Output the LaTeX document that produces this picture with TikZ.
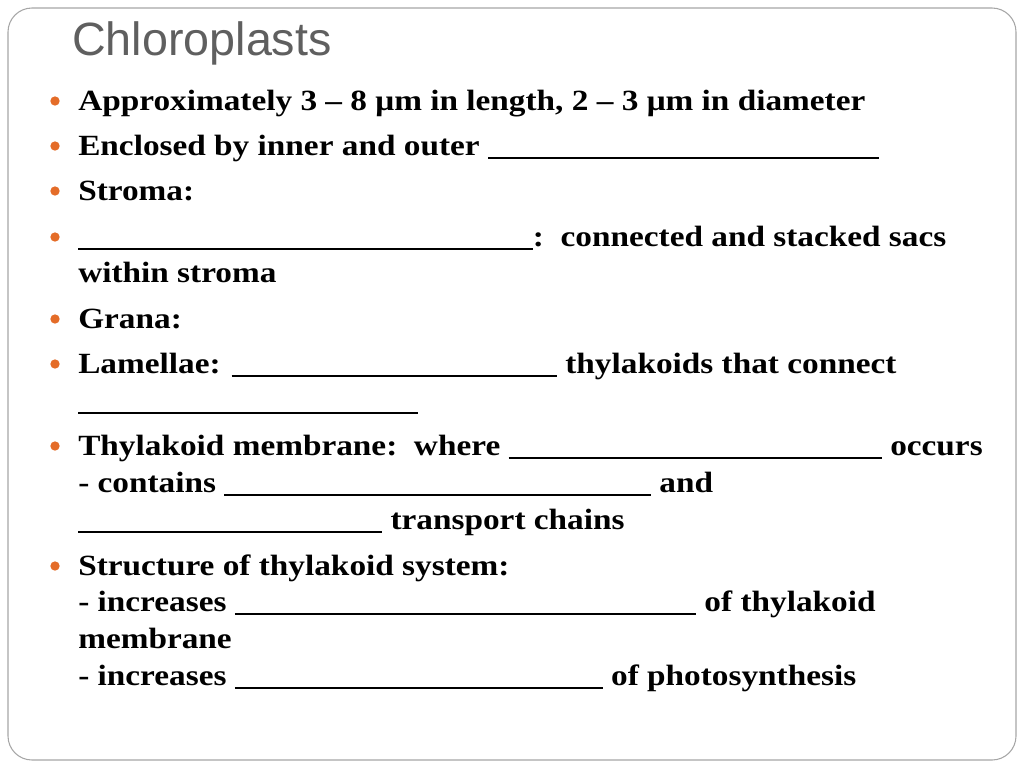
\documentclass[tikz,border=0pt]{standalone}
\usepackage{fontspec}
\setmainfont{Liberation Serif}
\newfontfamily\titlefont{Liberation Sans}
\definecolor{bul}{RGB}{228,108,40}
\definecolor{ttl}{RGB}{95,95,95}
\newcommand{\blank}[1]{\rule[-0.12em]{\fpeval{#1/1.135}pt}{0.06em}}
\newcommand{\wideln}[1]{\scalebox{1.135}[1]{#1}}
\begin{document}
\begin{tikzpicture}[x=0.75pt,y=-0.75pt,
  ln/.style={anchor=base west,inner sep=0,font=\fontsize{22}{26}\selectfont\bfseries},
  dot/.style={circle,fill=bul,inner sep=0,minimum size=7pt}]
\useasboundingbox (0,0) rectangle (1024,768);
\draw[rounded corners=18pt,draw=gray!70,line width=0.8pt] (8,8) rectangle (1016,760);
\node[anchor=base west,inner sep=0,text=ttl,font=\titlefont\fontsize{35}{40}\selectfont] (title) at (72,55) {Chloroplasts};
\foreach \y/\n in {101/b1,146/b2,191/b3,237/b4,319/b5,364/b6,446/b7,566/b8}{\node[dot] (\n) at (55,\y) {};}
\node[ln] (l1) at (78,110) {\wideln{Approximately 3 -- 8 μm in length, 2 -- 3 μm in diameter}};
\node[ln] (l2) at (78,155) {\wideln{Enclosed by inner and outer \blank{293}}};
\node[ln] (l3) at (78,200) {\wideln{Stroma:}};
\node[ln] (l4) at (78,246) {\wideln{\blank{341}:\ \ connected and stacked sacs}};
\node[ln] (l5) at (78,282) {\wideln{within stroma}};
\node[ln] (l6) at (78,328) {\wideln{Grana:}};
\node[ln] (l7) at (78,373) {\wideln{Lamellae: \blank{244} thylakoids that connect}};
\node[ln] (l8) at (78,410) {\wideln{\blank{255}}};
\node[ln] (l9) at (78,455) {\wideln{Thylakoid membrane:\ \ where \blank{280} occurs}};
\node[ln] (l10) at (78,492) {\wideln{- contains \blank{320} and}};
\node[ln] (l11) at (78,529) {\wideln{\blank{228} transport chains}};
\node[ln] (l12) at (78,575) {\wideln{Structure of thylakoid system:}};
\node[ln] (l13) at (78,611) {\wideln{- increases \blank{346} of thylakoid}};
\node[ln] (l14) at (78,648) {\wideln{membrane}};
\node[ln] (l15) at (78,685) {\wideln{- increases \blank{276} of photosynthesis}};
\end{tikzpicture}
\end{document}
